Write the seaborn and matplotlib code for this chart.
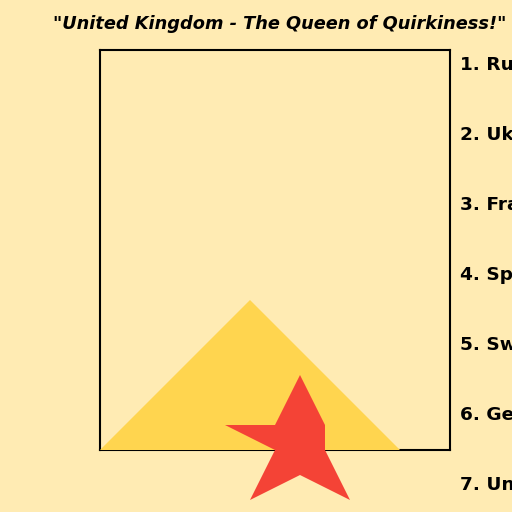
import matplotlib
matplotlib.use("Agg")
import matplotlib.pyplot as plt
import seaborn as sns

# Data
title_text = '"United Kingdom - The Queen of Quirkiness!"'
ranking = ["Russia", "Ukraine", "France", "Spain", "Sweden", "Germany", "United Kingdom"]
tri_x = [0, 3, 6]
tri_y = [0, 3, 0]
star_x = [4, 4.5, 4.5, 5, 4, 3, 3.5, 2.5, 3.5]
star_y = [1.5, 0.5, 0, -1, -0.5, -1, 0, 0.5, 0.5]

bg = "#FFEBB3"
sns.set_theme(style="white", rc={"figure.facecolor": bg, "axes.facecolor": bg,
                                 "text.color": "black"})
plt.rcParams["font.family"] = ["DejaVu Sans"]

fig = plt.figure(figsize=(5.12, 5.12), dpi=100)
ax = fig.add_axes([100 / 512, 62 / 512, 350 / 512, 400 / 512])
ax.set_xlim(0, 7)
ax.set_ylim(0, 8)

ax.fill(tri_x, tri_y, color="#FFD54F", zorder=3, clip_on=False, lw=0)
ax.fill(star_x, star_y, color="#F44336", zorder=4, clip_on=False, lw=0)

for i, name in enumerate(ranking):
    ax.text(7.2, 7.7 - 1.4 * i, f"{i + 1}. {name}", fontsize=13.3, fontweight="bold",
            va="center", ha="left", color="black", clip_on=False)

ax.set_title(title_text, fontsize=12.8, fontweight="bold", fontstyle="italic",
             pad=15, color="black", x=0.512)
ax.set_xticks([])
ax.set_yticks([])
for s in ax.spines.values():
    s.set_visible(True)
    s.set_color("black")
    s.set_linewidth(1.5)

fig.savefig("out.png", dpi=100, facecolor=bg)
